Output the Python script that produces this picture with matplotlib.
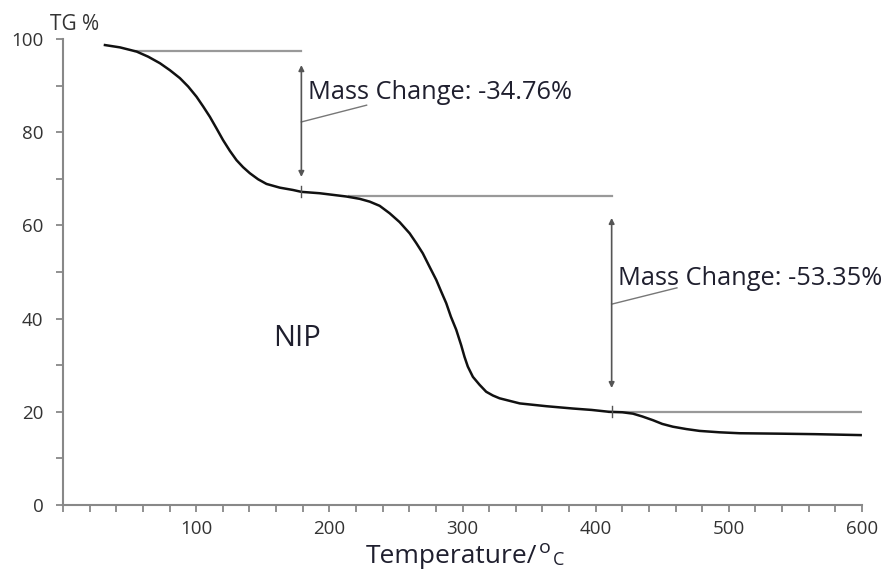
import matplotlib

matplotlib.use("Agg")
import matplotlib.pyplot as plt
import matplotlib.ticker as mticker

plt.rcParams["font.family"] = ["Open Sans", "DejaVu Sans"]

# TG curve
TEMP = [31.5, 42.8, 55.3, 64, 72.8, 80.3, 87.8, 94, 100.3, 105.3, 110.3, 115.3,
        120.2, 125.3, 130.3, 135.2, 140.3, 146.5, 152.8, 162.8, 172.7, 179, 192.8,
        212.8, 222.8, 230.3, 237.8, 245.3, 252.8, 260.3, 265.3, 270.2, 275.3,
        280.3, 284, 287.8, 291.3, 295.3, 299, 301.5, 304, 307.8, 312.8, 317.8,
        322.8, 327.8, 343, 363, 383, 397, 410, 420, 428, 435, 443, 450, 458, 468,
        478, 493, 508, 540, 565, 599]
TG = [98.7, 98.2, 97.3, 96.2, 94.8, 93.3, 91.6, 89.8, 87.6, 85.5, 83.3, 80.8,
      78.3, 76.0, 74.0, 72.5, 71.2, 69.9, 68.9, 68.1, 67.6, 67.2, 66.9,
      66.2, 65.7, 65.1, 64.2, 62.6, 60.7, 58.3, 56.2, 54.0, 51.1,
      48.3, 45.8, 43.3, 40.4, 37.6, 34.3, 31.8, 29.7, 27.5, 25.8, 24.3,
      23.5, 22.9, 21.8, 21.2, 20.7, 20.4, 20.0, 19.9, 19.6, 19.0, 18.2, 17.4, 16.8, 16.3,
      15.9, 15.6, 15.4, 15.3, 15.2, 15.0]

# step construction lines (temperature span, level)
STEP1_TOP = ([54, 179], 97.4)
STEP2_TOP = ([215, 412], 66.3)
STEP2_BOT = ([410, 599], 20.0)
ARROW_X = [179, 412]
ARROW_Y = [(94.4, 70.4), (61.6, 25.1)]
MARK_Y = [67.2, 20.0]
LEADERS = [([179, 228], [82.2, 85.8]), ([412, 461], [43.1, 46.6])]
LABELS = ["Mass Change: -34.76%", "Mass Change: -53.35%"]
LABEL_POS = [(184, 88.5), (417, 48.6)]

GRAY = "#999999"
TEXT = "#1f1f2e"

fig = plt.figure(figsize=(8.91, 5.70), dpi=100)
ax = fig.add_axes([63 / 891, 1 - 505 / 570, (862 - 63) / 891, (505 - 39) / 570])

ax.plot(TEMP, TG, color="#111111", lw=1.8, zorder=3, solid_joinstyle="round")

for xs, y in (STEP1_TOP, STEP2_TOP, STEP2_BOT):
    ax.plot(xs, [y, y], color=GRAY, lw=1.6, zorder=2)

for x, (y0, y1), ym in zip(ARROW_X, ARROW_Y, MARK_Y):
    ax.annotate("", xy=(x, y0), xytext=(x, y1),
                arrowprops=dict(arrowstyle="<|-|>", color="#555555", lw=1.2,
                                mutation_scale=8, shrinkA=0, shrinkB=0))
    ax.plot([x, x], [ym - 1.2, ym + 1.2], color="#555555", lw=1.0, zorder=4)

for (xs, ys) in LEADERS:
    ax.plot(xs, ys, color="#777777", lw=1.0)

for lab, (x, y) in zip(LABELS, LABEL_POS):
    ax.text(x, y, lab, fontsize=18.3, color=TEXT, va="center", ha="left")

ax.text(176, 35.8, "NIP", fontsize=21, color=TEXT, ha="center", va="center")

ax.set_xlim(0, 600)
ax.set_ylim(0, 100)
ax.set_xticks([100, 200, 300, 400, 500, 600])
ax.xaxis.set_minor_locator(mticker.MultipleLocator(20))
ax.set_yticks([0, 20, 40, 60, 80, 100])
ax.yaxis.set_minor_locator(mticker.MultipleLocator(10))
ax.tick_params(which="both", direction="out", length=5, width=1.3, color="#888888",
               labelsize=13.5, labelcolor="#333333")
ax.tick_params(axis="x", pad=6)
ax.tick_params(axis="y", pad=9)

for side in ("top", "right"):
    ax.spines[side].set_visible(False)
for side in ("left", "bottom"):
    ax.spines[side].set_color("#888888")
    ax.spines[side].set_linewidth(1.5)

# x label drawn in pieces: "Temperature/" + raised "o" + lowered "C"
fig.text(366 / 891, 1 - 563 / 570, "Temperature/", fontsize=19, color=TEXT,
         ha="left", va="baseline")
fig.text(539 / 891, 1 - 553 / 570, "o", fontsize=14, color=TEXT,
         ha="left", va="baseline")
fig.text(553 / 891, 1 - 565 / 570, "C", fontsize=13, color=TEXT,
         ha="left", va="baseline")
fig.text(50 / 891, 1 - 24 / 570, "TG %", fontsize=15, color="#333333",
         ha="left", va="center")

fig.savefig("out.png", dpi=100)
